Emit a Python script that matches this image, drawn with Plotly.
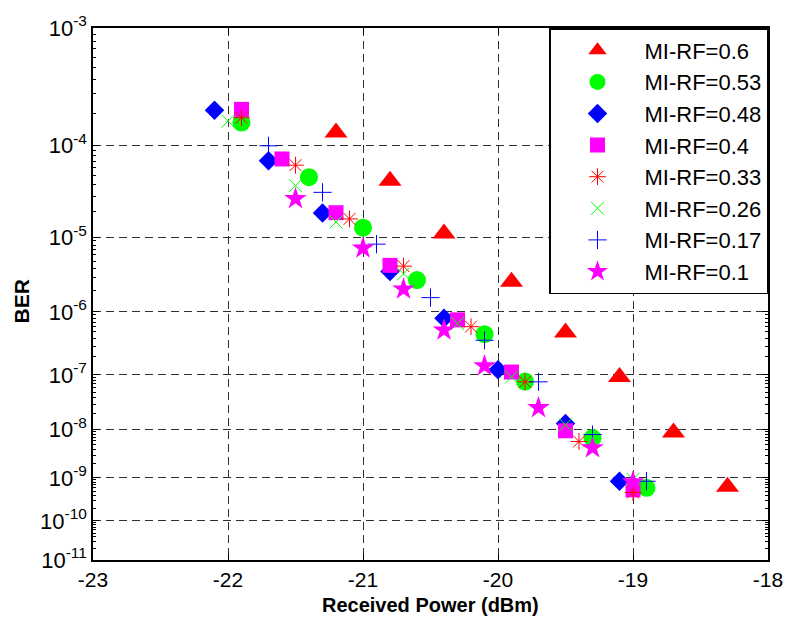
import math
import plotly.graph_objects as go

# ---------------- data ----------------
series_names = ["MI-RF=0.6", "MI-RF=0.53", "MI-RF=0.48", "MI-RF=0.4",
                "MI-RF=0.33", "MI-RF=0.26", "MI-RF=0.17", "MI-RF=0.1"]

x_06 = [-21.2, -20.8, -20.4, -19.9, -19.5, -19.1, -18.7, -18.3]
ber_06 = [1.34e-4, 4.4e-5, 1.11e-5, 2.65e-6, 4.9e-7, 9.2e-8, 8.8e-9, 6.3e-10]

x_053 = [-21.9, -21.4, -21.0, -20.6, -20.1, -19.8, -19.3, -18.9]
ber_053 = [1.66e-4, 4.8e-5, 1.3e-5, 2.8e-6, 4.6e-7, 7.7e-8, 6.8e-9, 6.0e-10]

x_048 = [-22.1, -21.7, -21.3, -20.8, -20.4, -20.0, -19.5, -19.1]
ber_048 = [2.15e-4, 7.1e-5, 1.94e-5, 3.66e-6, 8.0e-7, 1.23e-7, 1.32e-8, 8.4e-10]

x_04 = [-21.9, -21.6, -21.2, -20.8, -20.3, -19.9, -19.5, -19.0]
ber_04 = [2.19e-4, 7.4e-5, 1.95e-5, 4.4e-6, 7.6e-7, 1.12e-7, 9.5e-9, 5.4e-10]

x_033 = [-21.9, -21.5, -21.1, -20.7, -20.2, -19.8, -19.4, -19.0]
ber_033 = [1.84e-4, 6.4e-5, 1.65e-5, 4.3e-6, 6.0e-7, 7.6e-8, 5.8e-9, 4.7e-10]

x_026 = [-22.0, -21.5, -21.2, -20.7, -20.3, -19.9, -19.5, -19.0]
ber_026 = [1.71e-4, 3.9e-5, 1.52e-5, 3.4e-6, 6.7e-7, 9.2e-8, 1.24e-8, 9.3e-10]

x_017 = [-21.7, -21.3, -20.9, -20.5, -20.1, -19.7, -19.3, -18.9]
ber_017 = [1.0e-4, 3.3e-5, 8.2e-6, 1.6e-6, 3.7e-7, 7.6e-8, 8.0e-9, 8.4e-10]

x_01 = [-21.5, -21.0, -20.7, -20.4, -20.1, -19.7, -19.3, -19.0]
ber_01 = [2.8e-5, 7.3e-6, 2.1e-6, 5.3e-7, 1.42e-7, 2.6e-8, 4.3e-9, 8.1e-10]

x_ticks = [-23, -22, -21, -20, -19, -18]
x_ticklabels = ["-23", "-22", "-21", "-20", "-19", "-18"]
ber_exponents = [3, 4, 5, 6, 7, 8, 9, 10, 11]

# ---------------- BER scale: -log10(-log10(BER)) ----------------
def ber_scale(b):
    return -math.log10(-math.log10(b))

def exp_scale(n):
    return -math.log10(n)

y_tickvals = [exp_scale(n) for n in ber_exponents]
y_ticktext = ["10<sup>-%d</sup>" % n for n in ber_exponents]
minor_vals = []
for n in ber_exponents[1:]:
    for k in range(2, 10):
        minor_vals.append(ber_scale(k * 10.0 ** (-n)))

styles = [
    dict(symbol="triangle-up", size=20, color="#FF0000", line=dict(width=0)),
    dict(symbol="circle", size=18, color="#00FF00", line=dict(width=0)),
    dict(symbol="diamond", size=15, color="#0000FF", line=dict(width=0)),
    dict(symbol="square", size=15, color="#FF00FF", line=dict(width=0)),
    dict(symbol="asterisk-open", size=14, color="#FF0000", line=dict(width=1, color="#FF0000")),
    dict(symbol="x-thin-open", size=13, color="#00FF00", line=dict(width=1, color="#00FF00")),
    dict(symbol="cross-thin-open", size=13, color="#0000FF", line=dict(width=1, color="#0000FF")),
    dict(symbol="star", size=17, color="#FF00FF", line=dict(width=0)),
]

xs = [x_06, x_053, x_048, x_04, x_033, x_026, x_017, x_01]
bers = [ber_06, ber_053, ber_048, ber_04, ber_033, ber_026, ber_017, ber_01]

font_family = "Liberation Sans, Arial, sans-serif"

fig = go.Figure()
for name, xv, bv, st in zip(series_names, xs, bers, styles):
    fig.add_trace(go.Scatter(
        x=xv, y=[ber_scale(b) for b in bv], mode="markers", name=name,
        marker=st, cliponaxis=False,
    ))

grid_dash = "8px,5px"
fig.update_layout(
    width=795, height=628, autosize=False,
    margin=dict(l=93, r=19, t=23, b=68),
    paper_bgcolor="white", plot_bgcolor="white",
    font=dict(family=font_family, size=21, color="black"),
    showlegend=True,
    legend=dict(x=1, y=1, xanchor="right", yanchor="top",
                bgcolor="white", bordercolor="black", borderwidth=1.5,
                font=dict(family=font_family, size=22, color="black"),
                itemwidth=84, tracegroupgap=0),
    xaxis=dict(range=[-23, -18], tickmode="array", tickvals=x_ticks,
               ticktext=x_ticklabels, ticks="inside", ticklen=6,
               tickcolor="black", tickwidth=1, showline=True, linecolor="black",
               linewidth=1.5, mirror="allticks", showgrid=True,
               gridcolor="#303030", gridwidth=1, griddash=grid_dash,
               zeroline=False, tickfont=dict(size=21)),
    yaxis=dict(range=[exp_scale(11), exp_scale(3)], tickmode="array",
               tickvals=y_tickvals, ticktext=y_ticktext, ticks="inside",
               ticklen=6, tickcolor="black", tickwidth=1, showline=True,
               linecolor="black", linewidth=1.5, mirror="allticks",
               showgrid=True, gridcolor="#303030", gridwidth=1,
               griddash=grid_dash, zeroline=False, tickfont=dict(size=22),
               minor=dict(tickmode="array", tickvals=minor_vals, ticks="inside",
                          ticklen=3, tickcolor="black", tickwidth=1,
                          showgrid=False)),
    annotations=[
        dict(text="<b>BER</b>", xref="paper", yref="paper",
             x=(21 - 93) / 683, y=(560 - 299) / 537.3, textangle=-90,
             showarrow=False, font=dict(size=21), xanchor="center", yanchor="middle"),
        dict(text="<b>Received Power (dBm)</b>", xref="paper", yref="paper",
             x=(434 - 93) / 683, y=(560 - 605) / 537.3, showarrow=False,
             font=dict(size=20), xanchor="center", yanchor="middle"),
    ],
)

fig.write_html("out.html")
